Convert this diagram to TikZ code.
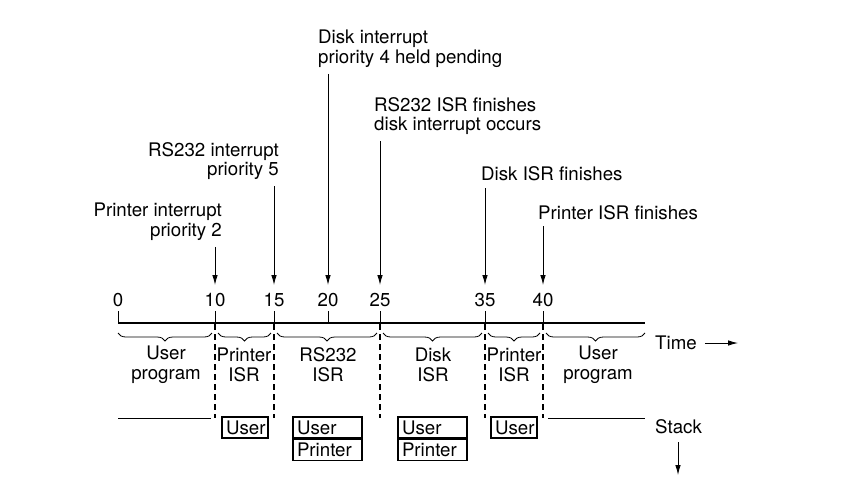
\documentclass[tikz,border=0pt]{standalone}
\usepackage{fontspec}
\setmainfont{TeX Gyre Heros}
\usetikzlibrary{arrows.meta,positioning,decorations.pathreplacing}
\tikzset{
  lbl/.style={font=\fontsize{18.7}{19.8}\selectfont, inner sep=0pt},
  ptr/.style={-{Latex[length=10pt,width=5.5pt]}, line width=0.9pt},
  cutline/.style={dash pattern=on 6pt off 4pt, line width=1.6pt},
  brc/.style={decorate, decoration={brace, mirror, amplitude=8pt}, line width=0.8pt},
  stk/.style={draw, line width=1.1pt, font=\fontsize{18.7}{19.8}\selectfont,
    inner xsep=4pt, inner ysep=0pt, minimum height=21pt, align=left}
}
\begin{document}
\begin{tikzpicture}[x=1pt,y=-1pt]
    \useasboundingbox (0,0) rectangle (864,488);
    % Trục thời gian
    \draw[line width=2.2pt] (118,323) -- (645,323);
    \foreach \x/\v in {118/0,215/10,274/15,328/20,380/25,485/35,543/40}
    {
    \node[lbl] (t\v) at (\x,300) {\v};
    \draw[line width=0.9pt] (\x,311) -- (\x,323);
    }
    \node[lbl, anchor=west] (timeLbl) at (655,343) {Time};
    \coordinate (timeEnd) at (738,343);
    \draw[ptr, shorten <=8pt] (timeLbl.east) -- (timeEnd);

    % Các ngắt phía trên
    \node[lbl, anchor=east, align=right] (lblPrinter) at (222,222) {Printer interrupt\\priority 2};
    \node[lbl, anchor=east, align=right] (lblRS) at (279,161) {RS232 interrupt\\priority 5};
    \node[lbl, anchor=west, align=left] (lblDisk) at (318,49) {Disk interrupt\\priority 4 held pending};
    \node[lbl, anchor=west, align=left] (lblRSdone) at (374,116) {RS232 ISR finishes\\disk interrupt occurs};
    \node[lbl, anchor=west] (lblDiskdone) at (481,174) {Disk ISR finishes};
    \node[lbl, anchor=west] (lblPrinterdone) at (538,213) {Printer ISR finishes};
    \foreach \x/\v in {215/10,274/15,328/20,380/25,485/35,543/40}
    \coordinate (a\v) at (\x,285);
    \draw[ptr, shorten <=6pt] (a10 |- lblPrinter.south) -- (a10);
    \draw[ptr, shorten <=6pt] (a15 |- lblRS.south) -- (a15);
    \draw[ptr, shorten <=6pt] (a20 |- lblDisk.south) -- (a20);
    \draw[ptr, shorten <=6pt] (a25 |- lblRSdone.south) -- (a25);
    \draw[ptr, shorten <=7pt] (a35 |- lblDiskdone.south) -- (a35);
    \draw[ptr, shorten <=6pt] (a40 |- lblPrinterdone.south) -- (a40);

    % Ngoặc và tên từng đoạn
    \foreach \a/\b in {118/212,218/271,277/377,383/482,488/540,546/645}
    \draw[brc] (\a,333) -- (\b,333);
    \node[lbl, align=center] (segA) at (166,365) {User\\program};
    \node[lbl, align=center] (segB) at (244,365) {Printer\\ISR};
    \node[lbl, align=center] (segC) at (328,365) {RS232\\ISR};
    \node[lbl, align=center] (segD) at (433,365) {Disk\\ISR};
    \node[lbl, align=center] (segE) at (514,365) {Printer\\ISR};
    \node[lbl, align=center] (segF) at (598,365) {User\\program};

    % Đường gạch
    \foreach \x in {215,274,380,485,543}
    \draw[cutline] (\x,324) -- (\x,418);

    % Ngăn xếp
    \draw[line width=0.7pt] (118,418) -- (211,418);
    \draw[line width=0.7pt] (548,418) -- (645,418);
    \node[stk, text width=38pt] (u1) at (245,427.5) {User};
    \node[stk, text width=61pt] (u2) at (327.5,427.5) {User};
    \node[stk, text width=61pt, below=0pt of u2] (p2) {Printer};
    \node[stk, text width=61pt] (u3) at (432.5,427.5) {User};
    \node[stk, text width=61pt, below=0pt of u3] (p3) {Printer};
    \node[stk, text width=38pt] (u4) at (514,427.5) {User};
    \node[lbl, anchor=west] (stackLbl) at (655,427) {Stack};
    \coordinate (stackEnd) at (678,475);
    \draw[ptr, shorten <=8pt] (stackEnd |- stackLbl.south) -- (stackEnd);
\end{tikzpicture}
\end{document}
